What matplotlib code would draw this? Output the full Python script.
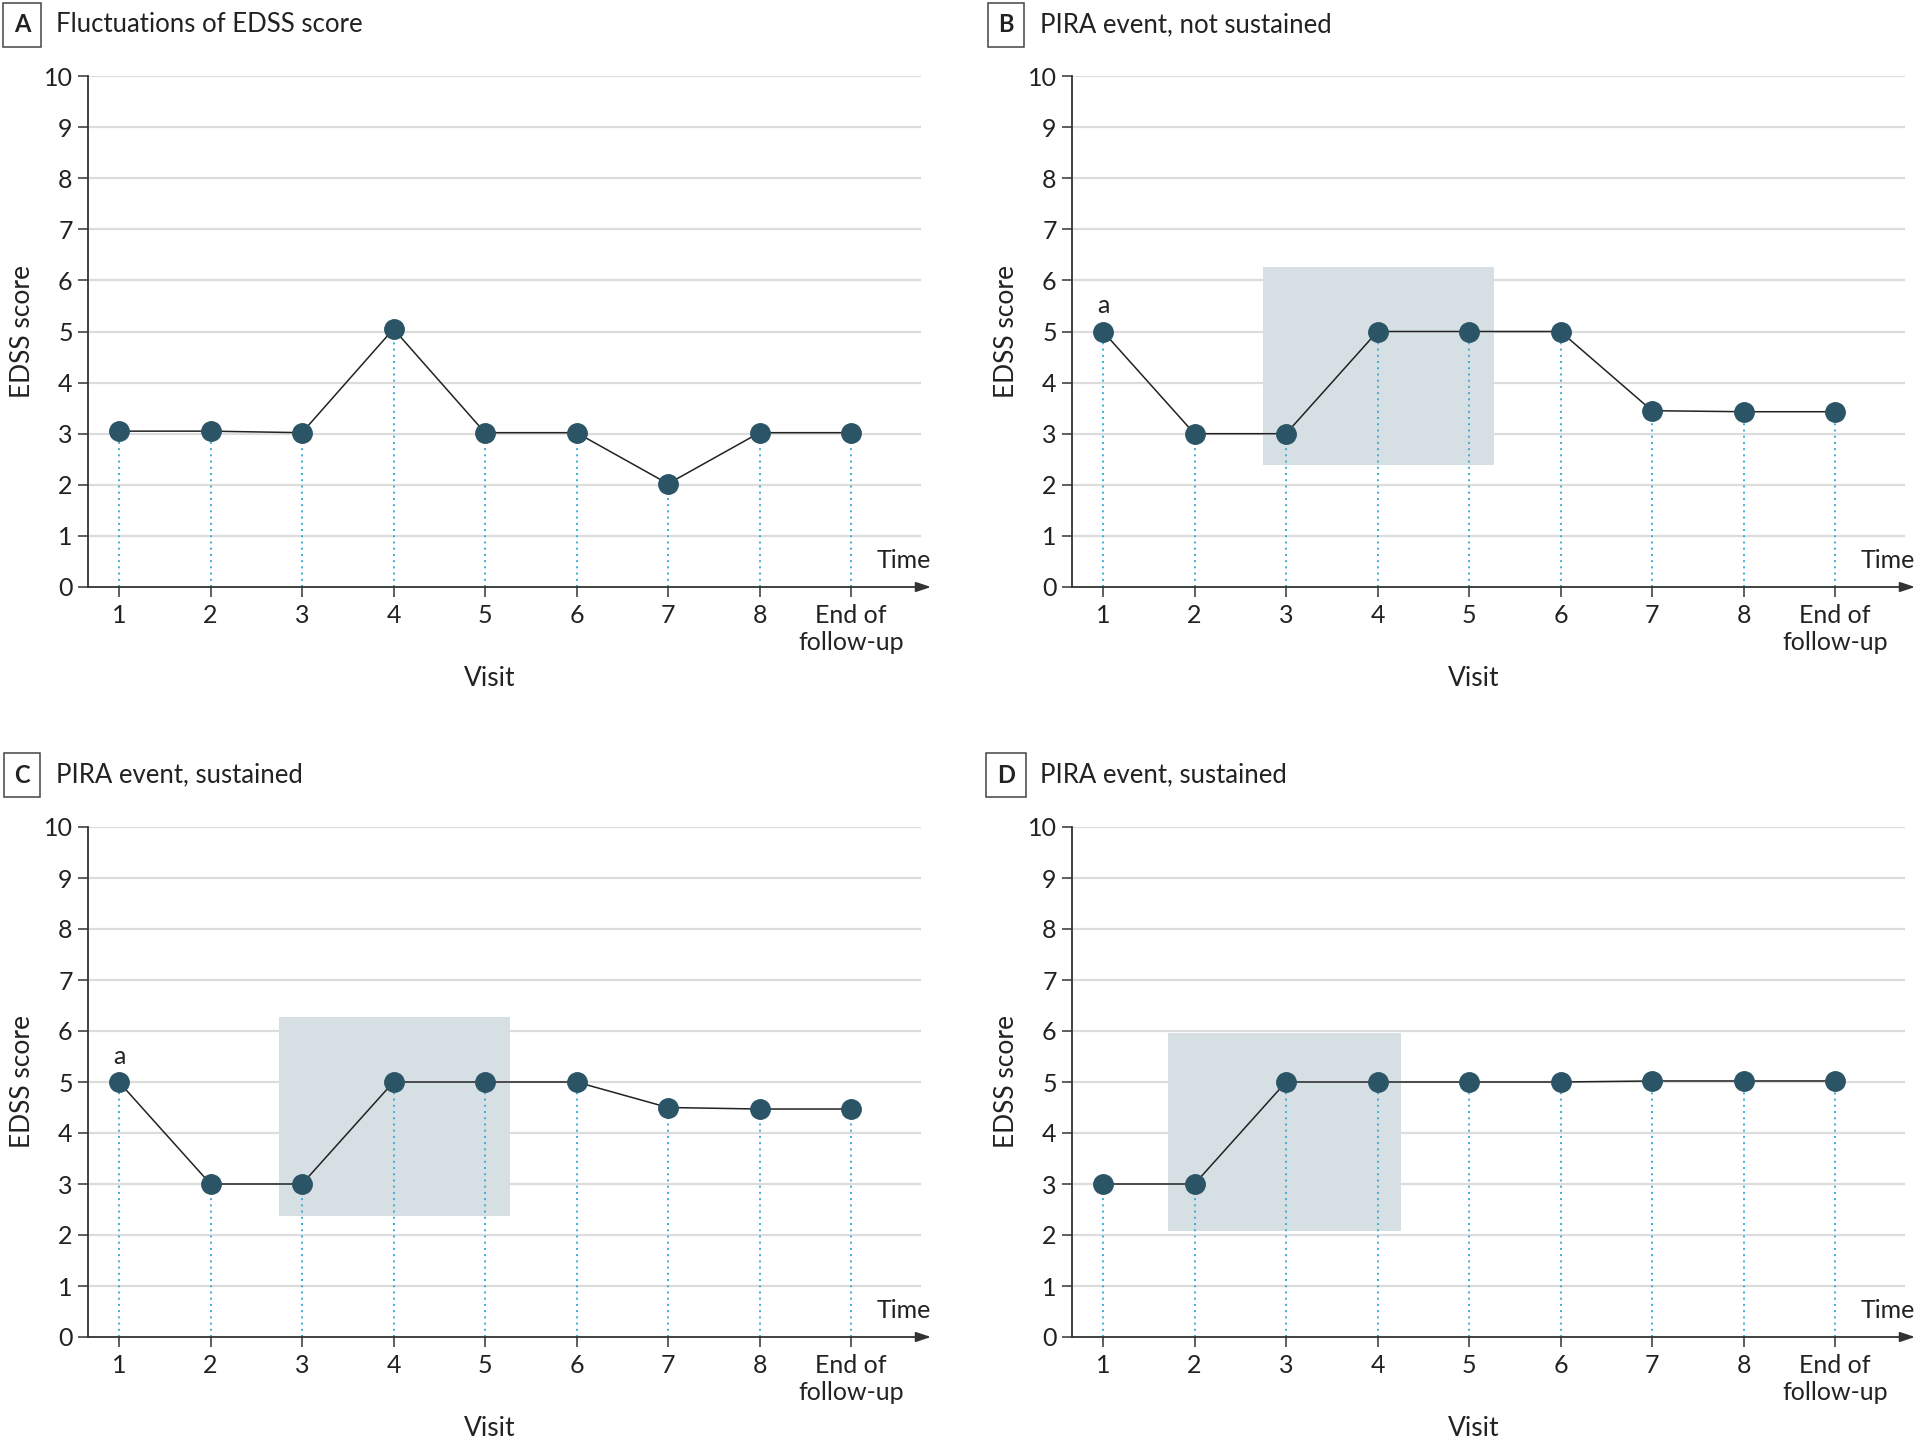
import matplotlib
matplotlib.use("Agg")
import matplotlib.pyplot as plt
from matplotlib.patches import Rectangle

plt.rcParams['font.family'] = ['Lato', 'DejaVu Sans']

visits = [1, 2, 3, 4, 5, 6, 7, 8, 9]
tick_labels = ["1", "2", "3", "4", "5", "6", "7", "8", "End of\nfollow-up"]
y_ticks = list(range(0, 11))

letters = ["A", "B", "C", "D"]
titles = ["Fluctuations of EDSS score", "PIRA event, not sustained",
          "PIRA event, sustained", "PIRA event, sustained"]
scores_a = [3.05, 3.05, 3.02, 5.05, 3.02, 3.02, 2.02, 3.02, 3.02]
scores_b = [5.0, 3.0, 3.0, 5.0, 5.0, 5.0, 3.45, 3.43, 3.43]
scores_c = [5.0, 3.0, 3.0, 5.0, 5.0, 5.0, 4.5, 4.47, 4.47]
scores_d = [3.0, 3.0, 5.0, 5.0, 5.0, 5.0, 5.02, 5.02, 5.02]
all_scores = [scores_a, scores_b, scores_c, scores_d]
# shaded window: (x0, x1, y0, y1) or None
windows = [None, (2.75, 5.27, 2.38, 6.27), (2.75, 5.27, 2.38, 6.27), (1.71, 4.26, 2.07, 5.96)]
note_a = [False, True, True, False]

W, H = 1921, 1443
fig = plt.figure(figsize=(W / 100, H / 100), dpi=100)

marker_col = "#2b5566"
dot_col = "#3aaed6"
grid_col = "#dcdcdc"
shade_col = "#d6dfe3"
axis_col = "#333333"
text_col = "#222222"

# pixel layout for panels: (spine_x, y_top(10), y_bottom(0))
panel_px = [(88, 76, 587), (1072, 76, 587), (88, 827, 1337), (1072, 827, 1337)]
header_y = [25, 25, 775, 775]
x1_offset = 31      # px from spine to visit 1
spacing = 91.5      # px per visit
arrow_len = 843     # px from spine to arrow tip

for i in range(4):
    sx, ytop, ybot = panel_px[i]
    ax = fig.add_axes([sx / W, 1 - ybot / H, arrow_len / W, (ybot - ytop) / H])
    xmin = 1 - x1_offset / spacing
    xmax = xmin + arrow_len / spacing
    grid_end = xmax - 10 / spacing
    ax.set_xlim(xmin, xmax)
    ax.set_ylim(0, 10)
    for s in ["top", "right", "bottom"]:
        ax.spines[s].set_visible(False)
    ax.spines["left"].set_color(axis_col)
    ax.spines["left"].set_linewidth(1.3)
    ax.set_yticks(y_ticks)
    ax.set_xticks(visits)
    ax.set_xticklabels(tick_labels, linespacing=1.25)
    ax.tick_params(axis="y", length=7, width=1.1, color=axis_col, labelsize=18, pad=4, labelcolor=text_col)
    ax.tick_params(axis="x", length=7, width=1.1, color=axis_col, labelsize=18, pad=5, labelcolor=text_col)

    for yv in y_ticks[1:]:
        ax.plot([xmin, grid_end], [yv, yv], color=grid_col, lw=1.6, zorder=0, solid_capstyle="butt")

    win = windows[i]
    if win is not None:
        ax.add_patch(Rectangle((win[0], win[2]), win[1] - win[0], win[3] - win[2],
                               facecolor=shade_col, edgecolor="none", zorder=1))

    sc = all_scores[i]
    for xv, yv in zip(visits, sc):
        ax.plot([xv, xv], [0, yv], color=dot_col, lw=1.4, ls=(0, (1, 2.2)), zorder=2)
    ax.plot(visits, sc, color=text_col, lw=1.1, zorder=3)
    ax.plot(visits, sc, ls="none", marker="o", ms=14, color=marker_col, zorder=4)

    # x axis arrow
    ax.annotate("", xy=(xmax, 0), xytext=(xmin, 0), xycoords="data",
                arrowprops=dict(arrowstyle="-|>,head_length=0.9,head_width=0.3",
                                color=axis_col, lw=1.3, shrinkA=0, shrinkB=0),
                annotation_clip=False, zorder=5)
    ax.text(xmax, 0.3, "Time", ha="right", va="bottom", fontsize=18, color=text_col)

    if note_a[i]:
        ax.text(1, sc[0] + 0.28, "a", ha="center", va="bottom", fontsize=18, color=text_col)

    ax.text(5.05, -1.8, "Visit", ha="center", va="center", fontsize=19, color=text_col)
    ax.set_ylabel("EDSS score", fontsize=19, color=text_col, labelpad=6)

    # header
    fig.text((sx - 66) / W, 1 - header_y[i] / H, letters[i], ha="center", va="center",
             fontsize=17, fontweight="bold", color=text_col,
             bbox=dict(boxstyle="square,pad=0.45", facecolor="white", edgecolor="#444444", lw=1.1))
    fig.text((sx - 32) / W, 1 - header_y[i] / H, titles[i], ha="left", va="center",
             fontsize=18.5, color=text_col)

fig.savefig("out.png", dpi=100, facecolor="white")
